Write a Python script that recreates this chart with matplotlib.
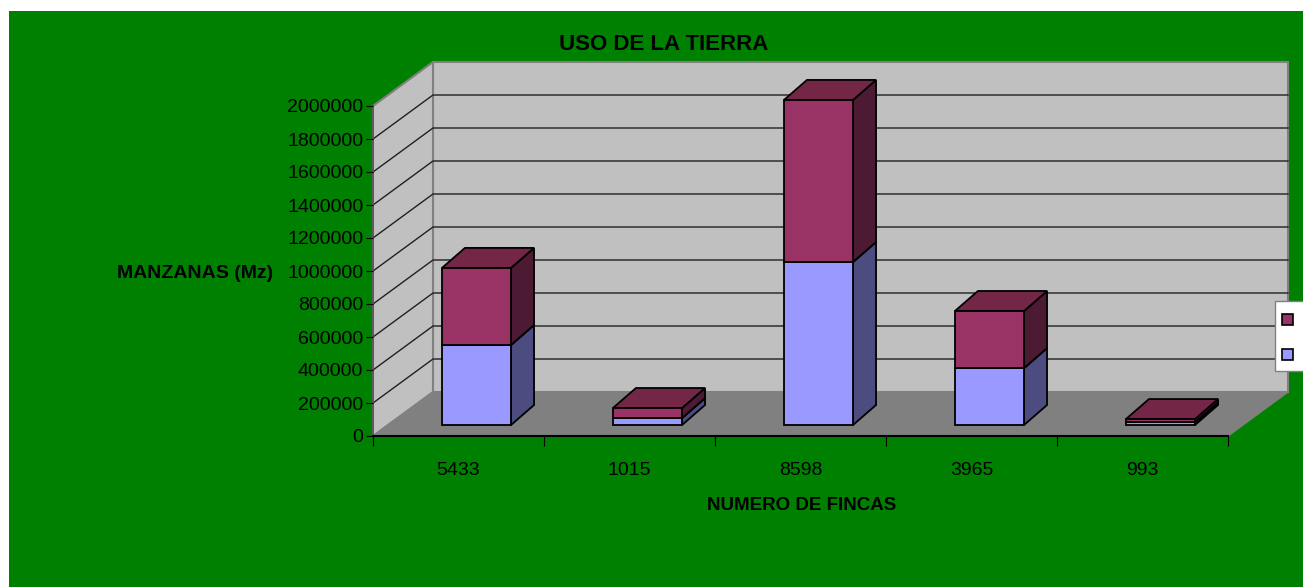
import matplotlib
matplotlib.use("Agg")
import matplotlib.pyplot as plt
from matplotlib.patches import Polygon, Rectangle

plt.rcParams['font.family'] = ['Liberation Sans', 'DejaVu Sans']

# ---- data ----
categories = ["5433", "1015", "8598", "3965", "993"]
serie_inferior = [485000, 42000, 988000, 345000, 16000]   # blue
serie_superior = [467000, 61000, 982000, 346000, 20000]   # magenta
yticks = [0, 200000, 400000, 600000, 800000, 1000000, 1200000,
          1400000, 1600000, 1800000, 2000000]
title = "USO DE LA TIERRA"
ylabel = "MANZANAS (Mz)"
xlabel = "NUMERO DE FINCAS"

# ---- figure / axes (front plane of the 3D box) ----
W, H = 1303, 587
fig = plt.figure(figsize=(W / 100, H / 100), dpi=100, facecolor='white')
fig.patches.append(Rectangle((9 / W, 0), 1.0, 1 - 11 / H, transform=fig.transFigure,
                             facecolor='#008000', edgecolor='none', zorder=-10))
ax = fig.add_axes([373 / W, (H - 436) / H, 855 / W, 330 / H])
n = len(categories)
ymax = 2000000
ax.set_xlim(0, n)
ax.set_ylim(0, ymax)
ax.patch.set_visible(False)

PX = n / 855.0          # data units per pixel (x)
PY = ymax / 330.0       # data units per pixel (y)

# depth offset of the whole box (pixels)
BOX_DX, BOX_DY = 60, 44


def P(x, v, d):
    return (x + BOX_DX * PX * d, v + BOX_DY * PY * d)


def Q(x, v, ox, oy):
    return (x + ox * PX, v + oy * PY)


def poly(pts, fc, ec='black', lw=1.0, z=1):
    ax.add_patch(Polygon(pts, closed=True, facecolor=fc, edgecolor=ec,
                         linewidth=lw, zorder=z, clip_on=False))

# walls & floor
poly([P(0, 0, 1), P(n, 0, 1), P(n, ymax, 1), P(0, ymax, 1)], '#C0C0C0', '#808080', 1.5, 0.1)
poly([P(0, 0, 0), P(0, 0, 1), P(0, ymax, 1), P(0, ymax, 0)], '#C0C0C0', '#808080', 1.5, 0.1)
poly([P(0, 0, 0), P(n, 0, 0), P(n, 0, 1), P(0, 0, 1)], '#808080', '#808080', 1.0, 0.2)

# gridlines
for v in yticks[1:-1]:
    xs, ys = zip(P(0, v, 0), P(0, v, 1), P(n, v, 1))
    ax.plot(xs, ys, color='#202020', lw=1.0, zorder=0.3, clip_on=False)

# bars (pixel offsets of front face and back face)
bw = 0.404
F_DX, F_DY = 18, 11
B_DX, B_DY = 18 + 23, 11 + 20
blue_f, blue_s = '#9999FF', '#4C4C80'
mag_f, mag_s, mag_t = '#993366', '#4D1A33', '#732646'

for i in range(n):
    xc = i + 0.5
    x0, x1 = xc - bw / 2, xc + bw / 2
    segs = [(0, serie_inferior[i], blue_f, blue_s, blue_f),
            (serie_inferior[i], serie_inferior[i] + serie_superior[i], mag_f, mag_s, mag_t)]
    for k, (b, t, cf, cs, ct) in enumerate(segs):
        z = 2 + i * 0.1 + k * 0.01
        fx, fy = Q(x0, b, F_DX, F_DY)
        ax.bar(fx, t - b, bottom=fy, width=bw, align='edge', color=cf,
               edgecolor='black', linewidth=1.3, zorder=z + 0.005, clip_on=False)
        poly([Q(x1, b, F_DX, F_DY), Q(x1, b, B_DX, B_DY),
              Q(x1, t, B_DX, B_DY), Q(x1, t, F_DX, F_DY)], cs, 'black', 1.3, z)
        poly([Q(x0, t, F_DX, F_DY), Q(x1, t, F_DX, F_DY),
              Q(x1, t, B_DX, B_DY), Q(x0, t, B_DX, B_DY)], ct, 'black', 1.3, z)

# axes styling
for s in ['top', 'right']:
    ax.spines[s].set_visible(False)
ax.spines['left'].set_color('#555555')
ax.spines['left'].set_linewidth(1.2)
ax.spines['bottom'].set_color('black')
ax.spines['bottom'].set_linewidth(1.5)
ax.spines['left'].set_zorder(0.5)
ax.set_yticks(yticks)
ax.set_yticklabels([str(v) for v in yticks])
ax.set_xticks(range(n + 1))
ax.set_xticklabels([])
ax.set_xticks([i + 0.5 for i in range(n)], minor=True)
ax.set_xticklabels(categories, minor=True)
ax.tick_params(axis='y', direction='out', length=5, color='black', labelsize=14, pad=2)
ax.tick_params(axis='x', which='major', direction='out', length=7, color='black')
ax.tick_params(axis='x', which='minor', length=0, labelsize=14, pad=19)

# titles
fig.text(664 / W, 1 - 44 / H, title, ha='center', va='center', fontsize=16, fontweight='bold')
fig.text(195 / W, 1 - 273 / H, ylabel, ha='center', va='center', fontsize=14, fontweight='bold')
fig.text(802 / W, 1 - 505 / H, xlabel, ha='center', va='center', fontsize=13.5, fontweight='bold')

# legend (clipped at the right edge)
fig.patches.append(Rectangle((1275 / W, 1 - 371 / H), 40 / W, 70 / H, transform=fig.transFigure,
                             facecolor='white', edgecolor='#808080', linewidth=1.0, zorder=5))
fig.patches.append(Rectangle((1282 / W, 1 - 325 / H), 11 / W, 11 / H, transform=fig.transFigure,
                             facecolor=mag_f, edgecolor='black', linewidth=1.2, zorder=6))
fig.patches.append(Rectangle((1282 / W, 1 - 360 / H), 11 / W, 11 / H, transform=fig.transFigure,
                             facecolor=blue_f, edgecolor='black', linewidth=1.2, zorder=6))

fig.savefig('out.png', dpi=100, facecolor=fig.get_facecolor())
